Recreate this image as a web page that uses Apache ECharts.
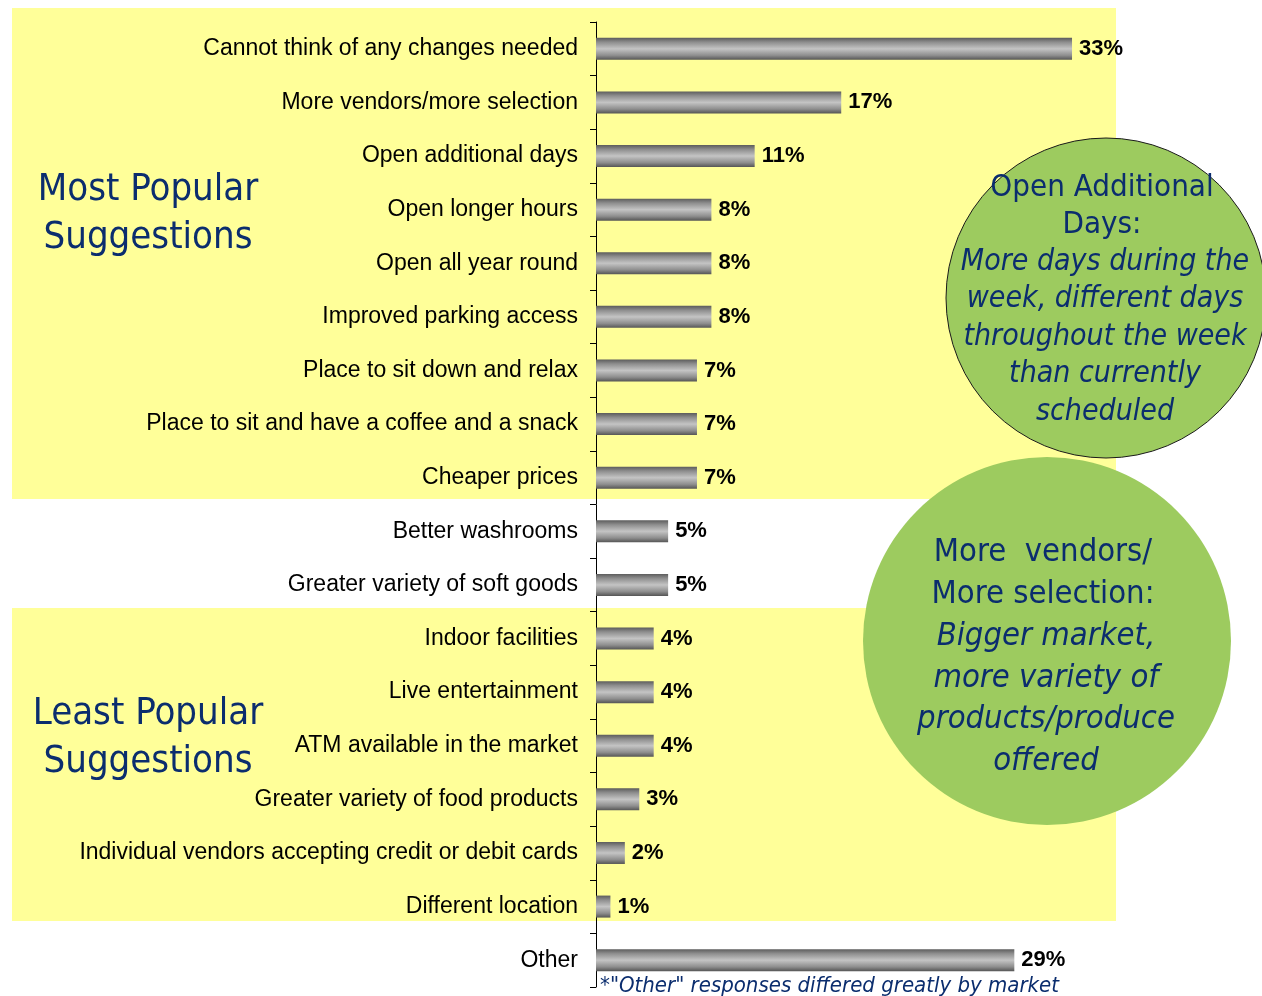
<!DOCTYPE html>
<html>
<head>
<meta charset="utf-8">
<script src="https://cdn.jsdelivr.net/npm/echarts@6/dist/echarts.min.js"></script>
<style>
  html, body { margin: 0; padding: 0; background: #ffffff; }
  #chart { width: 1262px; height: 996px; }
</style>
</head>
<body>
<div id="chart"></div>
<script>
// Survey suggestions (share of respondents, %)
const categories = [
  'Cannot think of any changes needed',
  'More vendors/more selection',
  'Open additional days',
  'Open longer hours',
  'Open all year round',
  'Improved parking access',
  'Place to sit down and relax',
  'Place to sit and have a coffee and a snack',
  'Cheaper prices',
  'Better washrooms',
  'Greater variety of soft goods',
  'Indoor facilities',
  'Live entertainment',
  'ATM available in the market',
  'Greater variety of food products',
  'Individual vendors accepting credit or debit cards',
  'Different location',
  'Other'
];
const percentages = [33, 17, 11, 8, 8, 8, 7, 7, 7, 5, 5, 4, 4, 4, 3, 2, 1, 29];

const groupTitles = ['Most Popular\nSuggestions', 'Least Popular\nSuggestions'];
const calloutDays = {
  title: 'Open Additional\nDays:',
  body: 'More days during the\nweek, different days\nthroughout the week\nthan currently\nscheduled'
};
const calloutVendors = {
  title: 'More  vendors/\nMore selection:',
  body: 'Bigger market,\nmore variety of\nproducts/produce\noffered'
};
const footnote = '*"Other" responses differed greatly by market';

const navy = '#0b2d6e';
const band = '#ffff99';
const green = '#9dcb5f';
const titleFont = '"DejaVu Sans Condensed", "DejaVu Sans", sans-serif';
const labelFont = '"Liberation Sans", Arial, sans-serif';

const chart = echarts.init(document.getElementById('chart'), null, { renderer: 'canvas' });

const option = {
  backgroundColor: '#ffffff',
  animation: false,
  grid: { left: 596, top: 22, width: 577, bottom: 9, containLabel: false },
  xAxis: {
    type: 'value', min: 0, max: 40,
    show: false
  },
  yAxis: {
    type: 'category',
    data: categories,
    inverse: true,
    axisLine: { show: true, lineStyle: { color: '#000000', width: 1 } },
    axisTick: { show: true, length: 6, lineStyle: { color: '#000000' } },
    axisLabel: {
      color: '#000000',
      fontFamily: labelFont,
      fontSize: 23,
      margin: 18
    }
  },
  series: [{
    type: 'bar',
    data: percentages,
    barWidth: 22,
    itemStyle: {
      color: new echarts.graphic.LinearGradient(0, 0, 0, 1, [
        { offset: 0, color: '#5c5c5c' },
        { offset: 0.2, color: '#8e8e8e' },
        { offset: 0.5, color: '#c4c4c4' },
        { offset: 0.8, color: '#8e8e8e' },
        { offset: 1, color: '#555555' }
      ])
    },
    label: {
      show: true,
      position: 'right',
      distance: 7,
      formatter: '{c}%',
      color: '#000000',
      fontWeight: 'bold',
      fontSize: 22,
      fontFamily: labelFont
    }
  }],
  graphic: [
    // highlighted bands behind the top and bottom groups
    { type: 'rect', z: -10, shape: { x: 12, y: 8, width: 1104, height: 491 }, style: { fill: band } },
    { type: 'rect', z: -10, shape: { x: 12, y: 608, width: 1104, height: 313 }, style: { fill: band } },
    // group titles
    {
      type: 'text', z: 10, x: 148, y: 214,
      style: {
        text: groupTitles[0], fill: navy, font: '38px ' + titleFont,
        align: 'center', verticalAlign: 'middle', lineHeight: 48
      }
    },
    {
      type: 'text', z: 10, x: 148, y: 738,
      style: {
        text: groupTitles[1], fill: navy, font: '38px ' + titleFont,
        align: 'center', verticalAlign: 'middle', lineHeight: 48
      }
    },
    // callout: additional days
    {
      type: 'circle', z: 50, shape: { cx: 1106, cy: 298, r: 160 },
      style: { fill: green, stroke: '#1a1a1a', lineWidth: 1 }
    },
    {
      type: 'text', z: 51, x: 1102, y: 206,
      style: {
        text: calloutDays.title, fill: navy, font: '31px ' + titleFont,
        align: 'center', verticalAlign: 'middle', lineHeight: 37
      }
    },
    {
      type: 'text', z: 51, x: 1105, y: 337,
      style: {
        text: calloutDays.body, fill: navy, font: 'italic 30px ' + titleFont,
        align: 'center', verticalAlign: 'middle', lineHeight: 37.5
      }
    },
    // callout: more vendors
    {
      type: 'circle', z: 50, shape: { cx: 1047, cy: 641, r: 184 },
      style: { fill: green }
    },
    {
      type: 'text', z: 51, x: 1043, y: 574,
      style: {
        text: calloutVendors.title, fill: navy, font: '32.5px ' + titleFont,
        align: 'center', verticalAlign: 'middle', lineHeight: 42
      }
    },
    {
      type: 'text', z: 51, x: 1046, y: 699,
      style: {
        text: calloutVendors.body, fill: navy, font: 'italic 32.5px ' + titleFont,
        align: 'center', verticalAlign: 'middle', lineHeight: 41.5
      }
    },
    // footnote
    {
      type: 'text', z: 10, x: 600, y: 986,
      style: {
        text: footnote, fill: navy, font: 'italic 22px ' + titleFont,
        align: 'left', verticalAlign: 'middle'
      }
    }
  ]
};

chart.setOption(option);
</script>
</body>
</html>
